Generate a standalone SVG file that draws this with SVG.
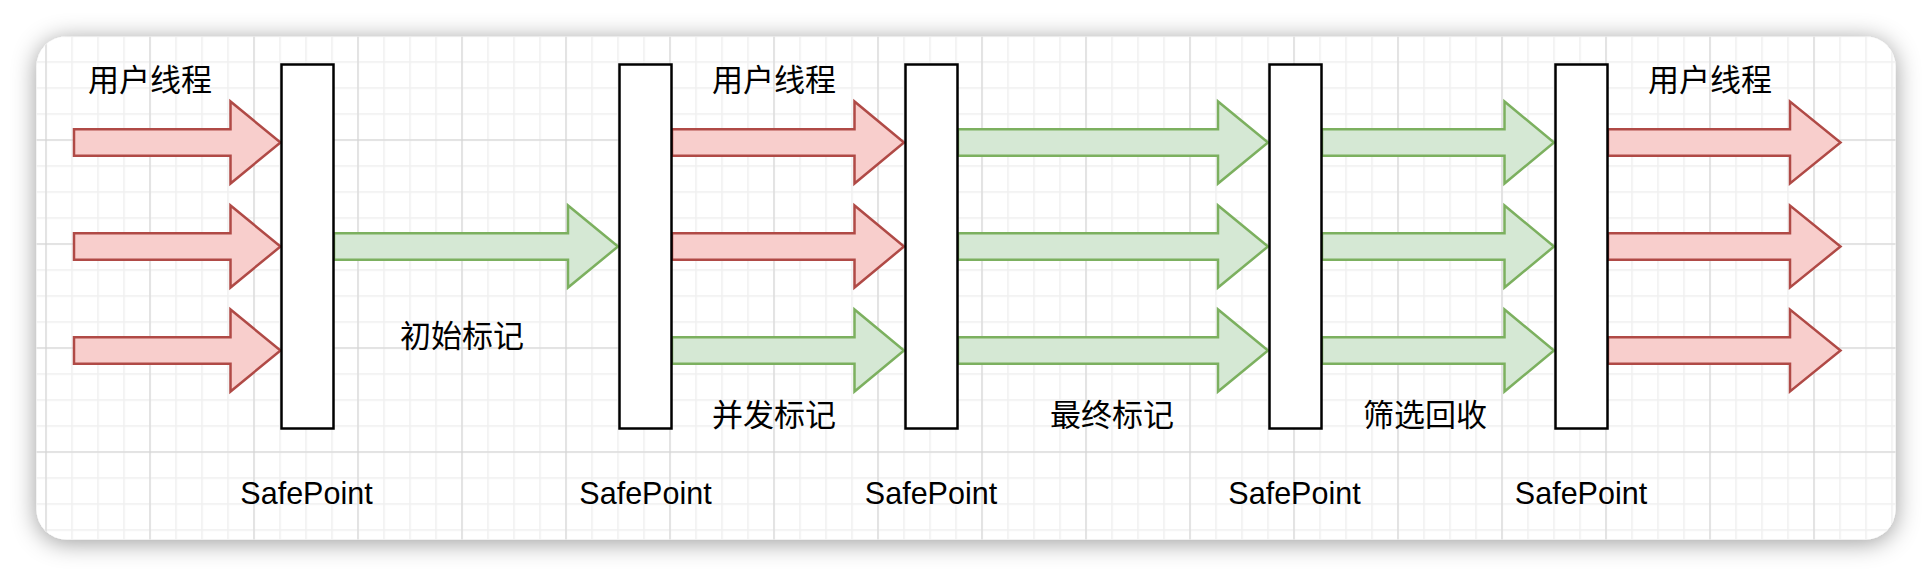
<svg xmlns="http://www.w3.org/2000/svg" width="1932" height="576" viewBox="0 0 1932 576">
  <style>
    .lbl { font-family: "Liberation Sans", "Noto Sans CJK SC", sans-serif; font-size: 30.5px; fill: #000; text-anchor: middle; }
    .cjk { font-family: "Noto Sans CJK SC", "Liberation Sans", sans-serif; font-size: 31px; fill: #000; text-anchor: middle; }
    .sp { fill: #ffffff; stroke: #000000; stroke-width: 2.5; }
    .red { fill: #f8cecc; stroke: #b04a46; stroke-width: 2.5; stroke-linejoin: miter; }
    .green { fill: #d5e8d4; stroke: #7cb05f; stroke-width: 2.5; stroke-linejoin: miter; }
  </style>
  <defs>
    <filter id="shadow" x="-10%" y="-30%" width="120%" height="160%">
      <feDropShadow dx="0" dy="3" stdDeviation="12" flood-color="#000" flood-opacity="0.4"/>
    </filter>
    <pattern id="minor" patternUnits="userSpaceOnUse" x="45.25" y="35.25" width="26" height="26">
      <rect x="0" y="0" width="1.5" height="26" fill="#efefef"/>
      <rect x="0" y="0" width="26" height="1.5" fill="#efefef"/>
    </pattern>
    <pattern id="major" patternUnits="userSpaceOnUse" x="45.5" y="35.5" width="104" height="104">
      <rect x="0" y="0" width="1" height="104" fill="#d2d2d2"/>
      <rect x="0" y="0" width="104" height="1" fill="#d2d2d2"/>
    </pattern>
  </defs>

  <rect x="0" y="0" width="1932" height="576" fill="#ffffff"/>
  <g id="card">
    <rect x="36.5" y="36.5" width="1859" height="503" rx="30" ry="30" fill="#ffffff" filter="url(#shadow)"/>
    <rect x="36.5" y="36.5" width="1859" height="503" rx="30" ry="30" fill="url(#minor)"/>
    <rect x="36.5" y="36.5" width="1859" height="503" rx="30" ry="30" fill="url(#major)"/>
  </g>

  <g id="connectors">
    <!-- red user threads into SafePoint 1 -->
    <path class="red" d="M74,129.25 H230.5 V101.5 L280.5,142.5 L230.5,183.5 V155.75 H74 Z"/>
    <path class="red" d="M74,233.25 H230.5 V205.5 L280.5,246.5 L230.5,287.5 V259.75 H74 Z"/>
    <path class="red" d="M74,337.25 H230.5 V309.5 L280.5,350.5 L230.5,391.5 V363.75 H74 Z"/>
    <!-- initial mark -->
    <path class="green" d="M334,233.25 H568 V205.5 L618,246.5 L568,287.5 V259.75 H334 Z"/>
    <!-- user threads + concurrent mark -->
    <path class="red" d="M672,129.25 H854.5 V101.5 L904,142.5 L854.5,183.5 V155.75 H672 Z"/>
    <path class="red" d="M672,233.25 H854.5 V205.5 L904,246.5 L854.5,287.5 V259.75 H672 Z"/>
    <path class="green" d="M672,337.25 H854.5 V309.5 L904,350.5 L854.5,391.5 V363.75 H672 Z"/>
    <!-- final mark -->
    <path class="green" d="M958,129.25 H1218 V101.5 L1268,142.5 L1218,183.5 V155.75 H958 Z"/>
    <path class="green" d="M958,233.25 H1218 V205.5 L1268,246.5 L1218,287.5 V259.75 H958 Z"/>
    <path class="green" d="M958,337.25 H1218 V309.5 L1268,350.5 L1218,391.5 V363.75 H958 Z"/>
    <!-- cleanup -->
    <path class="green" d="M1322,129.25 H1504.5 V101.5 L1554,142.5 L1504.5,183.5 V155.75 H1322 Z"/>
    <path class="green" d="M1322,233.25 H1504.5 V205.5 L1554,246.5 L1504.5,287.5 V259.75 H1322 Z"/>
    <path class="green" d="M1322,337.25 H1504.5 V309.5 L1554,350.5 L1504.5,391.5 V363.75 H1322 Z"/>
    <!-- user threads resume -->
    <path class="red" d="M1608,129.25 H1790 V101.5 L1840.5,142.5 L1790,183.5 V155.75 H1608 Z"/>
    <path class="red" d="M1608,233.25 H1790 V205.5 L1840.5,246.5 L1790,287.5 V259.75 H1608 Z"/>
    <path class="red" d="M1608,337.25 H1790 V309.5 L1840.5,350.5 L1790,391.5 V363.75 H1608 Z"/>
  </g>

  <g id="safepoint1">
    <rect class="sp" x="281.5" y="64.5" width="52" height="364"/>
    <text class="lbl" x="306.5" y="503.5">SafePoint</text>
  </g>
  <g id="safepoint2">
    <rect class="sp" x="619.5" y="64.5" width="52" height="364"/>
    <text class="lbl" x="645.5" y="503.5">SafePoint</text>
  </g>
  <g id="safepoint3">
    <rect class="sp" x="905.5" y="64.5" width="52" height="364"/>
    <text class="lbl" x="931" y="503.5">SafePoint</text>
  </g>
  <g id="safepoint4">
    <rect class="sp" x="1269.5" y="64.5" width="52" height="364"/>
    <text class="lbl" x="1294.5" y="503.5">SafePoint</text>
  </g>
  <g id="safepoint5">
    <rect class="sp" x="1555.5" y="64.5" width="52" height="364"/>
    <text class="lbl" x="1581" y="503.5">SafePoint</text>
  </g>

  <g id="label-user1"><text class="cjk" x="150" y="91">用户线程</text></g>
  <g id="label-user2"><text class="cjk" x="774" y="91">用户线程</text></g>
  <g id="label-user3"><text class="cjk" x="1710" y="91">用户线程</text></g>
  <g id="label-initial"><text class="cjk" x="462" y="347">初始标记</text></g>
  <g id="label-concurrent"><text class="cjk" x="774" y="426">并发标记</text></g>
  <g id="label-final"><text class="cjk" x="1112" y="426">最终标记</text></g>
  <g id="label-cleanup"><text class="cjk" x="1425" y="426">筛选回收</text></g>
</svg>
